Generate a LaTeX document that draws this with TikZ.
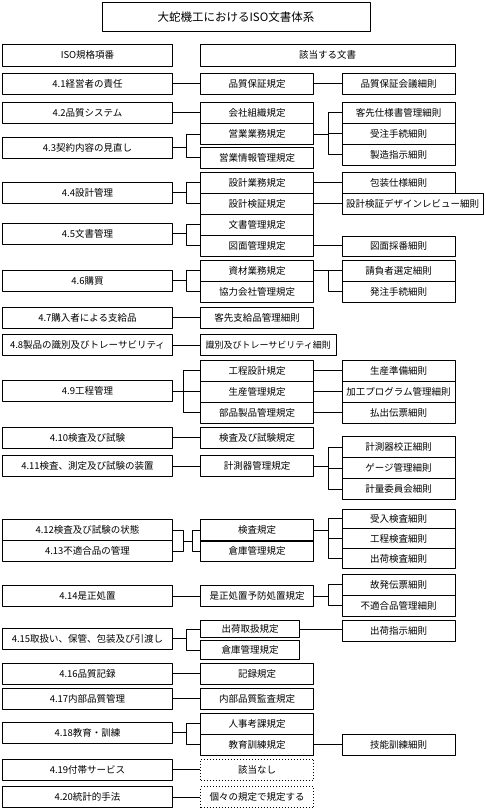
\documentclass[tikz,border=0pt]{standalone}
\usepackage{fontspec}
\setmainfont{Noto Sans CJK JP}

\tikzset{
  doc/.style={draw, inner sep=0pt, minimum height=21, font=\fontsize{9.5}{11}\selectfont},
  lbox/.style={doc, minimum width=170},
  mbox/.style={doc, minimum width=113},
  rbox/.style={doc, minimum width=113},
  nodoc/.style={mbox, dash pattern=on 1pt off 2pt},
}

\begin{document}
\begin{tikzpicture}[x=1pt, y=-1pt, line width=0.9pt, line join=round]
    \useasboundingbox (0,0) rectangle (486,809);

    \node[doc, minimum width=268, minimum height=28.5, font=\fontsize{11.5}{14}\selectfont] (title) at (236,17) {大蛇機工におけるISO文書体系};
    \node[lbox, minimum height=21.7] (hl) at (87.5,55.2) {ISO規格項番};
    \node[doc, minimum width=255, minimum height=21.7] (hr) at (327.7,55.2) {該当する文書};

    \foreach \n/\y/\t in {
        41/83.5/4.1経営者の責任,
        42/112.8/4.2品質システム,
        43/147.8/4.3契約内容の見直し,
        44/192.8/4.4設計管理,
        45/233.8/4.5文書管理,
        46/280.8/4.6購買,
        47/317.8/4.7購入者による支給品,
        48/345.3/4.8製品の識別及びトレーサビリティ,
        49/391.2/4.9工程管理,
        410/437.8/4.10検査及び試験,
        411/466.3/4.11検査、測定及び試験の装置,
        412/530.3/4.12検査及び試験の状態,
        413/551.3/4.13不適合品の管理,
        414/596/4.14是正処置,
        415/638.8/4.15取扱い、保管、包装及び引渡し,
        416/673.5/4.16品質記録,
        417/698.5/4.17内部品質管理,
        418/732.5/4.18教育・訓練,
        419/769.7/4.19付帯サービス,
        420/797.2/4.20統計的手法}
    {
        \node[lbox] (l\n) at (87.5,\y) {\t};
    }

    \foreach \n/\y/\t in {
        41/83.5/品質保証規定,
        42a/113/会社組織規定,
        42b/134/営業業務規定,
        43/157.5/営業情報管理規定,
        44a/182.8/設計業務規定,
        44b/203.8/設計検証規定,
        45a/224.8/文書管理規定,
        45b/245.8/図面管理規定,
        46a/270.7/資材業務規定,
        46b/291.7/協力会社管理規定,
        47/317.8/客先支給品管理細則,
        49a/370.8/工程設計規定,
        49b/391.8/生産管理規定,
        49c/412.8/部品製品管理規定,
        410/437.8/検査及び試験規定,
        411/466.3/計測器管理規定,
        412/530.3/検査規定,
        413/551.3/倉庫管理規定,
        414/596/是正処置予防処置規定,
        416/673.5/記録規定,
        417/698.5/内部品質監査規定,
        418a/723.8/人事考課規定,
        418b/744.8/教育訓練規定}
    {
        \node[mbox] (m\n) at (257,\y) {\t};
    }
    \node[doc, minimum width=135.3, font=\fontsize{9}{11}\selectfont] (m48) at (268.3,345.3) {識別及びトレーサビリティ細則};
    \node[doc, minimum width=98.6, minimum height=16.6] (m415a) at (250,629) {出荷取扱規定};
    \node[doc, minimum width=98.6, minimum height=18.6] (m415b) at (250,650) {倉庫管理規定};
    \node[nodoc] (m419) at (257,769.7) {該当なし};
    \node[nodoc] (m420) at (257,797.2) {個々の規定で規定する};
    \draw[line width=2pt] (m412.south west) -- (m412.south east);

    \foreach \n/\y/\t in {
        41/83.5/品質保証会議細則,
        42a/112.7/客先仕様書管理細則,
        42b/133.7/受注手続細則,
        42c/154.7/製造指示細則,
        44a/182.8/包装仕様細則,
        46a/270.7/請負者選定細則,
        46b/291.7/発注手続細則,
        49a/370.7/生産準備細則,
        49b/391.7/加工プログラム管理細則,
        49c/412.7/払出伝票細則,
        411a/447/計測器校正細則,
        411b/468/ゲージ管理細則,
        411c/489/計量委員会細則,
        414a/584.7/故発伝票細則,
        414b/605.7/不適合品管理細則,
        415/630.7/出荷指示細則,
        418/744.8/技能訓練細則}
    {
        \node[rbox] (r\n) at (398.5,\y) {\t};
    }
    \node[doc, minimum width=141] (r44b) at (412.5,204) {設計検証デザインレビュー細則};
    \node[rbox, minimum height=19.3] (r45) at (398.5,246.3) {図面採番細則};
    \foreach \n/\y/\t in {412a/518.9/受入検査細則, 412b/538.7/工程検査細則, 412c/558.5/出荷検査細則}
        \node[rbox, minimum height=19.8] (r\n) at (398.5,\y) {\t};

    \foreach \a/\b in {l41/m41, m41/r41, l42/m42a, m44a/r44a, m44b/r44b, m45b/r45,
        l47/m47, l48/m48, l49/m49b, m49a/r49a, m49b/r49b, m49c/r49c, l410/m410,
        l411/m411, l414/m414, m415a/r415, l416/m416, l417/m417, m418b/r418,
        l419/m419, l420/m420}
        \draw (\a.east) -- (\a.east -| \b.west);

    \foreach \a/\b/\c/\s in {l43/m42b/m43/13.5, l44/m44a/m44b/13.5, l45/m45a/m45b/13.5,
        l46/m46a/m46b/13.5, l49/m49a/m49c/10.8, l415/m415a/m415b/13.5, l418/m418a/m418b/13.5}
    {
        \draw (\a.east) -- ++(\s,0) coordinate (k);
        \draw (\b.west) -| (k) |- (\c.west);
    }

    \foreach \a/\b/\c/\d in {m42b/r42a/r42c/r42b, m46a/r46a/r46b/r46a, m411/r411a/r411c/r411b,
        m412/r412a/r412c/r412b, m414/r414a/r414b/r414a}
    {
        \draw (\a.east) -- ++(14.8,0) coordinate (k);
        \draw (\b.west) -| (k) |- (\c.west);
        \draw (\d.west) -- (\d.west -| k);
    }

    \coordinate (j1) at (183.3,541);
    \coordinate (j2) at (192.7,541);
    \draw (l412.east) -| (j1) |- (l413.east);
    \draw (j1) -- (j2);
    \draw (m412.west) -| (j2) |- (m413.west);
\end{tikzpicture}
\end{document}
